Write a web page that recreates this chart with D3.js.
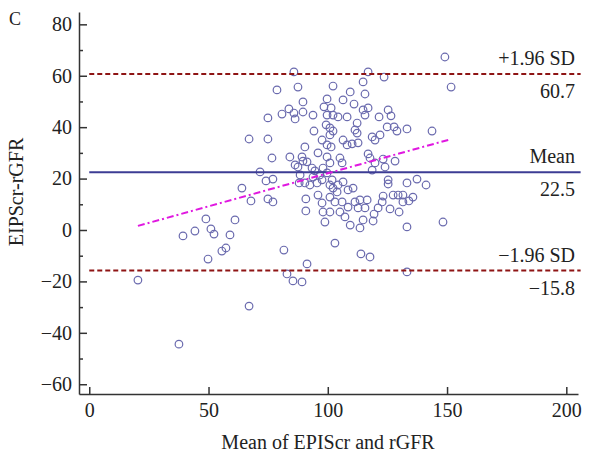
<!DOCTYPE html>
<html>
<head>
<meta charset="utf-8">
<script src="https://cdn.jsdelivr.net/npm/d3@7"></script>
<style>
  body { margin: 0; background: #fff; }
  svg text { font-family: "Liberation Serif", "Times New Roman", serif; fill: #222; }
</style>
</head>
<body>
<div class="canvas"></div>
<script>
// mean of EPIScr and rGFR (x) and difference EIPScr-rGFR (y)
const meanVals = [
  20.4, 37.6, 39.3, 44.3, 48.9, 61.1, 51.0, 52.3, 59.0, 57.3, 55.6, 49.8, 64.0, 67.8, 71.6, 74.1,
  77.0, 74.9, 77.0, 67.0, 81.6, 82.9, 85.4, 89.2, 91.3, 67.0, 74.9, 74.9, 78.7, 76.6, 84.1,
  85.8, 116.9, 87.5, 102.2, 114.8, 123.6, 149.1, 151.7, 109.4, 115.6, 89.6, 99.7, 106.4, 111.0,
  83.7, 85.8, 80.8, 86.3, 89.6, 93.8, 98.4, 101.4, 99.7, 102.2, 104.3, 108.1, 114.8, 116.9, 115.6,
  121.5, 125.3, 126.5, 112.3, 111.4, 112.3, 94.2, 99.3, 100.9, 102.2, 100.9, 124.9, 127.8, 129.0,
  133.2, 143.7, 97.6, 99.7, 101.4, 106.4, 108.1, 110.2, 112.7, 118.6, 119.8, 121.9, 90.4,
  89.2, 89.6, 91.3, 86.3, 87.5, 95.9, 105.1, 99.7, 100.9, 98.0, 93.4, 94.6, 116.9, 117.7, 123.2,
  119.8, 124.0, 128.2, 106.0, 118.6, 88.4, 93.8, 96.7, 99.7, 88.0, 90.4, 92.5, 95.5, 97.6, 100.9,
  101.8, 102.2, 104.3, 106.4, 108.5, 110.6, 90.8, 90.8, 95.9, 97.6, 100.9, 103.9, 103.0, 106.0,
  98.0, 100.9, 98.8, 105.1, 107.2, 108.5, 111.4, 112.7, 113.5, 116.5, 115.6, 119.4, 119.0,
  109.4, 113.5, 114.8, 103.0, 113.9, 117.7, 125.3, 125.3, 133.2, 137.4, 141.2, 127.4, 129.5,
  131.5, 135.7, 123.2, 122.8, 121.1, 131.5, 134.0, 126.1, 129.9, 133.2, 148.3, 133.2
];
const diffVals = [
  -19.5, -44.4, -2.3, -0.4, 4.3, 3.9, 0.4, -1.6, -1.9, -7.0, -8.2, -11.3, 16.3, 11.3, 22.6, 19.1,
  19.8, 12.1, 10.9, -29.6, -7.8, -17.1, -19.8, -20.2, -13.2, 35.4, 35.4, 43.6, 54.5, 28.0, 28.4,
  61.5, 61.5, 55.6, 56.0, 57.6, 59.5, 67.3, 55.6, 53.7, 52.9, 49.8, 51.0, 50.6, 49.0,
  47.1, 45.5, 45.1, 43.2, 45.9, 44.7, 47.9, 47.5, 44.7, 44.7, 44.0, 44.0, 46.7, 47.5, 44.7,
  44.0, 46.7, 44.4, 41.6, 38.9, 37.7, 38.5, 40.9, 39.7, 38.5, 37.0, 40.1, 40.1, 38.5,
  39.3, 38.5, 35.0, 33.1, 32.3, 35.0, 33.1, 33.5, 33.9, 36.2, 35.0, 37.0, 32.3,
  28.4, 26.8, 26.5, 25.3, 24.5, 30.0, 28.0, 28.4, 26.1, 24.1, 24.1, 23.0, 29.6, 28.0, 27.6,
  26.1, 24.5, 26.8, 26.1, 23.3, 21.4, 20.6, 21.4, 22.2, 18.3, 18.3, 17.5, 18.3, 19.5, 17.5,
  19.5, 16.3, 17.5, 18.7, 15.6, 16.3, 12.1, 7.4, 13.6, 10.5, 12.8, 14.8, 10.9, 10.9,
  7.0, 7.0, 3.1, 7.0, 5.1, 8.9, 10.9, 8.6, 11.7, 11.7, 8.6, 6.2, 3.5,
  1.9, 0.8, 3.9, -5.1, -9.3, -10.5, 19.5, 17.9, 18.3, 19.8, 17.5, 13.6, 13.6,
  13.6, 12.8, 13.2, 10.9, 8.6, 10.9, 11.3, 8.2, 7.0, 1.2, 3.1, -16.3
];

// agreement lines
const meanDiff = 22.5;
const upperLoA = 60.7;
const lowerLoA = -15.8;
const limitLines = [
  { value: upperLoA, name: '+1.96 SD', label: '60.7', kind: 'sd' },
  { value: meanDiff, name: 'Mean', label: '22.5', kind: 'mean' },
  { value: lowerLoA, name: '\u22121.96 SD', label: '\u221215.8', kind: 'sd' }
];
// regression trend of difference on mean
const trendX = [20.4, 151.5];
const trendY = [1.6, 35.3];

const xTicks = [0, 50, 100, 150, 200];
const yTicks = [-60, -40, -20, 0, 20, 40, 60, 80];
const yMinorTicks = [-50, -30, -10, 10, 30, 50, 70];

const width = 599, height = 456;

const svg = d3.select('.canvas')
  .append('svg')
  .attr('width', width)
  .attr('height', height);

const x = d3.scaleLinear().domain([-4.3, 204.9]).range([79, 578]);
const y = d3.scaleLinear().domain([-63.8, 84.8]).range([394, 12]);

// axes
const xAxis = d3.axisBottom(x)
  .tickValues(xTicks)
  .tickSizeInner(-7)
  .tickSizeOuter(0)
  .tickPadding(9)
  .tickFormat(d3.format('d'));
const yAxis = d3.axisLeft(y)
  .tickValues(yTicks)
  .tickSizeInner(-8)
  .tickSizeOuter(0)
  .tickPadding(7)
  .tickFormat(d => d < 0 ? '\u2212' + Math.abs(d) : d);
const yMinor = d3.axisLeft(y)
  .tickValues(yMinorTicks)
  .tickSizeInner(-4)
  .tickSizeOuter(0)
  .tickFormat('');

const xAxisGroup = svg.append('g').attr('transform', 'translate(0,394)').call(xAxis);
const yAxisGroup = svg.append('g').attr('transform', 'translate(79,0)').call(yAxis);
const yMinorGroup = svg.append('g').attr('transform', 'translate(79,0)').call(yMinor);
yMinorGroup.select('.domain').remove();

[xAxisGroup, yAxisGroup, yMinorGroup].forEach(g => {
  g.selectAll('path, line').attr('stroke', '#333').attr('stroke-width', 1.5);
  g.selectAll('text').attr('font-size', 20).attr('fill', '#222')
    .attr('font-family', '"Liberation Serif", "Times New Roman", serif');
});

// points
const points = meanVals.map((m, i) => ({ m: m, d: diffVals[i] }));
svg.append('g').selectAll('circle')
  .data(points)
  .enter()
  .append('circle')
  .attr('cx', d => x(d.m))
  .attr('cy', d => y(d.d))
  .attr('r', 3.8)
  .attr('fill', 'none')
  .attr('stroke', '#6a6aae')
  .attr('stroke-width', 1.2);

// mean and limits of agreement
svg.append('g').selectAll('line')
  .data(limitLines)
  .enter()
  .append('line')
  .attr('x1', x(0))
  .attr('x2', x(206))
  .attr('y1', d => y(d.value))
  .attr('y2', d => y(d.value))
  .attr('stroke', d => d.kind === 'mean' ? '#3c3c94' : '#8e1414')
  .attr('stroke-width', 2)
  .attr('stroke-dasharray', d => d.kind === 'mean' ? null : '5,3');

// trend line
svg.append('line')
  .attr('x1', x(trendX[0]))
  .attr('y1', y(trendY[0]))
  .attr('x2', x(trendX[1]))
  .attr('y2', y(trendY[1]))
  .attr('stroke', '#e018e0')
  .attr('stroke-width', 2)
  .attr('stroke-dasharray', '7,3,2,3');

// line labels
const labels = svg.append('g').attr('font-size', 20).attr('text-anchor', 'end');
labels.selectAll('.name')
  .data(limitLines)
  .enter()
  .append('text')
  .attr('class', 'name')
  .attr('x', 575)
  .attr('y', d => y(d.value) - 9)
  .text(d => d.name);
labels.selectAll('.val')
  .data(limitLines)
  .enter()
  .append('text')
  .attr('class', 'val')
  .attr('x', 575)
  .attr('y', d => y(d.value) + 24)
  .text(d => d.label);

// titles
svg.append('text')
  .attr('x', 328)
  .attr('y', 449)
  .attr('text-anchor', 'middle')
  .attr('font-size', 20)
  .text('Mean of EPIScr and rGFR');

svg.append('text')
  .attr('transform', 'translate(23,192) rotate(-90)')
  .attr('text-anchor', 'middle')
  .attr('font-size', 20)
  .text('EIPScr-rGFR');

svg.append('text')
  .attr('x', 9)
  .attr('y', 25)
  .attr('font-size', 18)
  .text('C');
</script>
</body>
</html>
